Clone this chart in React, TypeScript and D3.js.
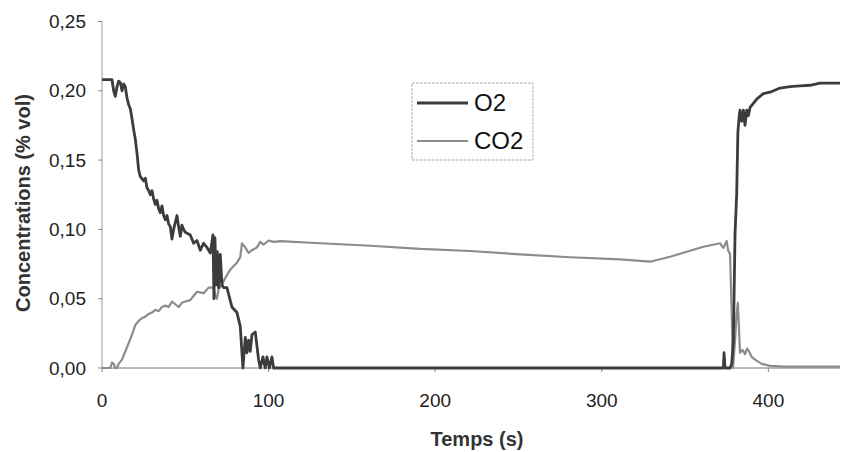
import * as d3 from "d3"

// temps (s) et concentration O2 (% vol)
const o2Time = [0, 4, 6, 7, 8, 9, 10, 11, 12, 13, 14, 15, 16, 17, 18, 19, 20, 21, 22, 23, 25, 26, 27, 28, 29, 30, 31, 32, 33, 34, 35, 36, 37, 38, 39, 40, 41, 42, 43, 44, 45, 46, 47, 48, 49, 50, 53, 55, 57, 59, 61, 63, 65, 66.6, 67.2, 67.8, 68.5, 69.2, 70, 71, 72, 73, 75, 78, 81, 83, 84.6, 86, 87, 88, 89, 90, 92, 94, 95, 96.6, 98, 99, 100.5, 102, 103, 373, 373.4, 374, 377, 378, 379, 380, 381, 381.7, 382.5, 383, 384, 385, 386, 387, 388, 389, 391, 393, 397, 401, 407, 413, 419, 425, 431, 437, 443]
const o2Values = [0.208, 0.208, 0.208, 0.2, 0.196, 0.203, 0.207, 0.206, 0.2, 0.205, 0.203, 0.195, 0.19, 0.187, 0.18, 0.172, 0.165, 0.155, 0.143, 0.138, 0.135, 0.137, 0.13, 0.128, 0.125, 0.128, 0.122, 0.118, 0.121, 0.115, 0.112, 0.117, 0.11, 0.107, 0.11, 0.104, 0.102, 0.093, 0.1, 0.105, 0.11, 0.102, 0.095, 0.103, 0.1, 0.098, 0.096, 0.09, 0.092, 0.085, 0.09, 0.087, 0.083, 0.096, 0.05, 0.094, 0.06, 0.084, 0.058, 0.082, 0.06, 0.058, 0.058, 0.044, 0.04, 0.03, 0, 0.022, 0.011, 0.02, 0.012, 0.024, 0.026, 0.006, 0, 0.008, 0, 0.008, 0, 0.008, 0, 0, 0.011, 0, 0, 0.003, 0.02, 0.097, 0.126, 0.17, 0.182, 0.186, 0.178, 0.186, 0.175, 0.186, 0.182, 0.188, 0.191, 0.194, 0.198, 0.199, 0.202, 0.203, 0.2035, 0.204, 0.2055, 0.2055, 0.2055]

// temps (s) et concentration CO2 (% vol)
const co2Time = [0, 5, 6, 7, 8, 9, 10, 12, 14, 16, 18, 20, 22, 24, 26, 28, 30, 32, 34, 36, 38, 40, 42, 44, 46, 48, 50, 53, 57, 61, 64, 67, 68, 69, 70, 72, 74, 77, 81, 83, 84, 86, 88, 90, 93, 95, 97, 100, 103, 107, 131, 161, 191, 221, 251, 281, 311, 329, 341, 361, 371, 373, 375, 375.8, 377, 378, 378.8, 380, 381, 381.7, 383, 384.5, 386, 387.2, 388.4, 390, 392, 396, 401, 410, 420, 443]
const co2Values = [0, 0, 0.004, 0.003, 0, 0, 0.003, 0.006, 0.012, 0.018, 0.024, 0.031, 0.034, 0.036, 0.037, 0.039, 0.04, 0.042, 0.041, 0.044, 0.045, 0.044, 0.048, 0.046, 0.044, 0.047, 0.048, 0.049, 0.055, 0.054, 0.058, 0.058, 0.052, 0.05, 0.057, 0.06, 0.065, 0.071, 0.076, 0.08, 0.09, 0.087, 0.083, 0.085, 0.087, 0.091, 0.089, 0.092, 0.091, 0.0915, 0.09, 0.0882, 0.0859, 0.0844, 0.082, 0.0799, 0.0784, 0.0767, 0.0803, 0.0875, 0.09, 0.0866, 0.0916, 0.085, 0.082, 0.04, 0, 0.02, 0.04, 0.047, 0.011, 0.013, 0.01, 0.014, 0.012, 0.008, 0.006, 0.003, 0.0015, 0.001, 0.001, 0.001]

const xTicks = [0, 100, 200, 300, 400]
const yTicks = [0, 0.05, 0.1, 0.15, 0.2, 0.25]

const fmt = (v: number) => v.toFixed(2).replace(".", ",")

export default function App() {
  const width = 841
  const height = 452
  const x = d3.scaleLinear().domain([0, 443]).range([102, 840])
  const y = d3.scaleLinear().domain([0, 0.25]).range([368, 21.5])

  const line = d3.line<[number, number]>()
    .x(d => x(d[0]))
    .y(d => y(d[1]))

  const o2 = o2Time.map((t, i) => [t, o2Values[i]] as [number, number])
  const co2 = co2Time.map((t, i) => [t, co2Values[i]] as [number, number])

  const font = "Arial, 'Liberation Sans', sans-serif"

  return (
    <svg width={width} height={height} style={{ position: "absolute", left: 0, top: 0, background: "#fff" }} fontFamily={font}>
      {/* axes */}
      <line x1={x(0)} x2={x(0)} y1={y(0.25)} y2={y(0)} stroke="#999" />
      <line x1={x(0)} x2={x(443)} y1={y(0)} y2={y(0)} stroke="#777" />
      {yTicks.map(t => (
        <g key={t}>
          <line x1={x(0) - 4} x2={x(0)} y1={y(t)} y2={y(t)} stroke="#888" />
          <text x={86} y={y(t)} dy="0.35em" textAnchor="end" fontSize={19} fill="#222">{fmt(t)}</text>
        </g>
      ))}
      {xTicks.map(t => (
        <g key={t}>
          <line x1={x(t)} x2={x(t)} y1={y(0)} y2={y(0) + 4} stroke="#888" />
          <text x={x(t)} y={407} textAnchor="middle" fontSize={19} fill="#222">{t}</text>
        </g>
      ))}
      <text x={477} y={446} textAnchor="middle" fontSize={20} fontWeight="bold" fill="#333">Temps (s)</text>
      <text transform={`translate(30,203) rotate(-90)`} textAnchor="middle" fontSize={20} fontWeight="bold" fill="#333">Concentrations (% vol)</text>

      {/* séries */}
      <path d={line(co2) ?? ""} fill="none" stroke="#8c8c8c" strokeWidth={2.2} strokeLinejoin="round" />
      <path d={line(o2) ?? ""} fill="none" stroke="#3c3c3c" strokeWidth={2.8} strokeLinejoin="round" />

      {/* légende */}
      <rect x={412} y={83} width={121} height={77} fill="#fff" stroke="#aaa" strokeDasharray="3 1" />
      <line x1={417} x2={468} y1={103} y2={103} stroke="#3c3c3c" strokeWidth={2.8} />
      <text x={474} y={103} dy="0.35em" fontSize={24} fill="#111">O2</text>
      <line x1={417} x2={468} y1={141} y2={141} stroke="#8c8c8c" strokeWidth={2.2} />
      <text x={474} y={141} dy="0.35em" fontSize={24} fill="#111">CO2</text>
    </svg>
  )
}
